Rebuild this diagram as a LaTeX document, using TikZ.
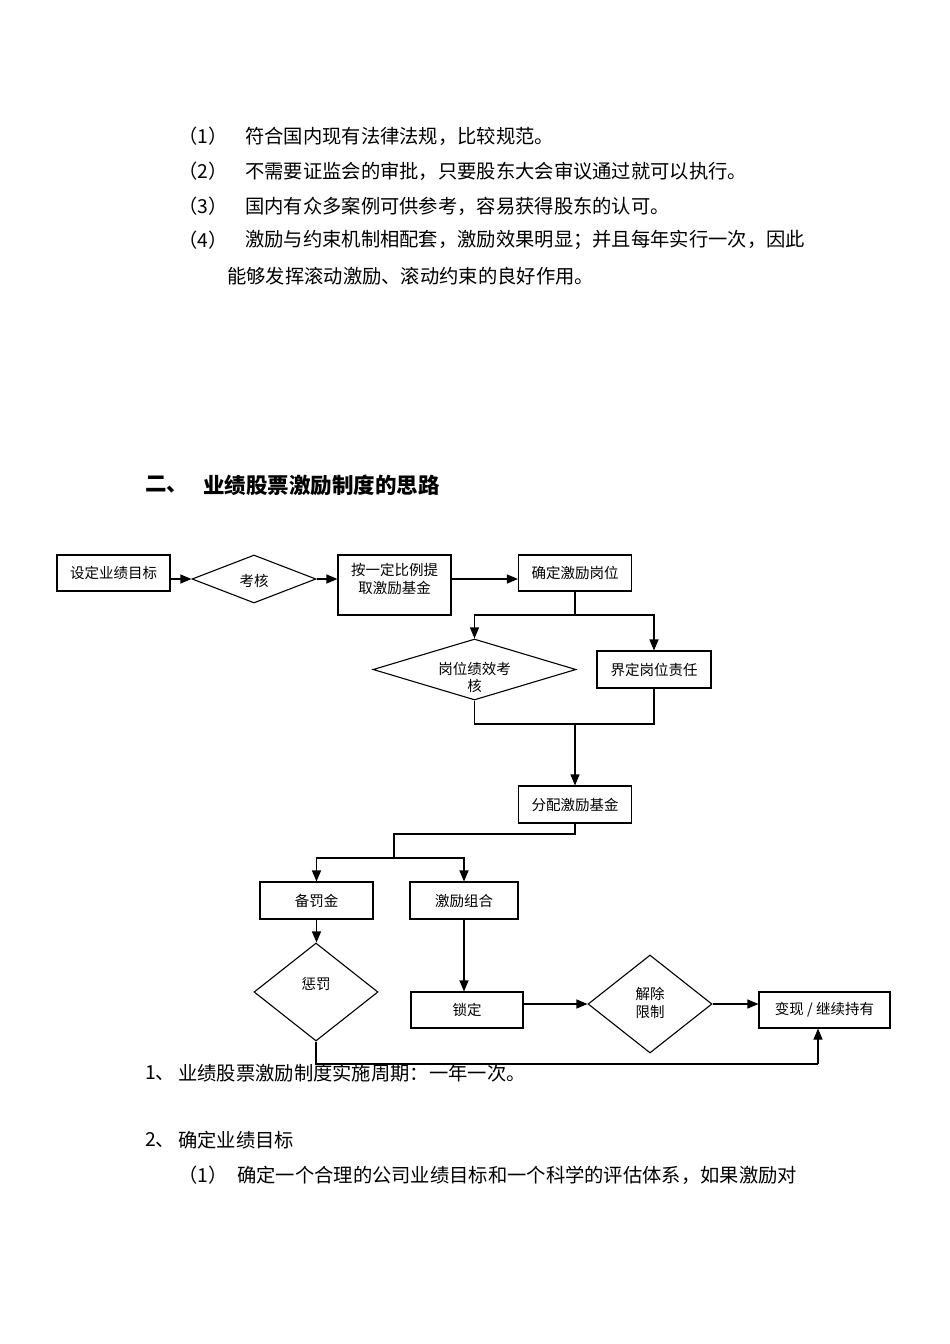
\documentclass[tikz,border=0pt]{standalone}
\usepackage{fontspec}
\newfontfamily\cjk{Noto Sans CJK SC}
\usetikzlibrary{arrows.meta,shapes.geometric}
\begin{document}
\begin{tikzpicture}[x=1pt,y=-1pt,
  body/.style={anchor=west,inner sep=0pt,font=\cjk\fontsize{19.3}{23}\selectfont},
  ttl/.style={anchor=west,inner sep=0pt,font=\cjk\bfseries\fontsize{21.5}{26}\selectfont},
  box/.style={draw,line width=1.1pt,rectangle,inner sep=0pt,font=\cjk\fontsize{14.5}{17}\selectfont},
  dia/.style={draw,line width=1.1pt,diamond,inner sep=0pt},
  lbl/.style={inner sep=0pt,align=center,font=\cjk\fontsize{14.5}{17.5}\selectfont},
  ln/.style={line width=1.1pt},
  arr/.style={line width=1.1pt,-{Triangle[length=11pt,width=9pt]}}]
\useasboundingbox[fill=white] (0,0) rectangle (950,1344);

% top list
\node[body] (n1) at (178,136) {（1）};
\node[body] (l1) at (245,136) {符合国内现有法律法规，比较规范。};
\node[body] (n2) at (178,171) {（2）};
\node[body] (l2) at (245,171) {不需要证监会的审批，只要股东大会审议通过就可以执行。};
\node[body] (n3) at (178,206) {（3）};
\node[body] (l3) at (245,206) {国内有众多案例可供参考，容易获得股东的认可。};
\node[body] (n4) at (178,240) {（4）};
\node[body] (l4) at (245,240) {激励与约束机制相配套，激励效果明显；并且每年实行一次，因此};
\node[body] (l5) at (227,276) {能够发挥滚动激励、滚动约束的良好作用。};

% title
\node[ttl] (t0) at (145,485) {二、};
\node[ttl] (t1) at (203,485) {业绩股票激励制度的思路};

% flowchart shapes
\node[box,minimum width=113,minimum height=36] (b1) at (113.5,573) {设定业绩目标};
\node[dia,minimum width=124,minimum height=48] (d1) at (254,579) {};
\node[lbl] (d1t) at (254,581) {考核};
\node[box,minimum width=113,minimum height=60] (b3) at (394.5,585) {};
\node[lbl] (b3t) at (394.5,579) {按一定比例提\\取激励基金};
\node[box,minimum width=113,minimum height=36] (b4) at (575,573) {确定激励岗位};
\node[dia,minimum width=203,minimum height=61] (d2) at (474.5,669.5) {};
\node[lbl] (d2t) at (474.5,677.5) {岗位绩效考\\核};
\node[box,minimum width=114,minimum height=37] (b5) at (654,669.5) {界定岗位责任};
\node[box,minimum width=113,minimum height=37] (b6) at (575,804.5) {分配激励基金};
\node[box,minimum width=113,minimum height=37] (b7) at (316.5,900.5) {备罚金};
\node[box,minimum width=108,minimum height=37] (b8) at (464,900.5) {激励组合};
\node[dia,minimum width=124,minimum height=98] (d3) at (316,992) {};
\node[lbl] (d3t) at (316,984) {惩罚};
\node[box,minimum width=112,minimum height=36] (b9) at (467,1010) {锁定};
\node[dia,minimum width=124,minimum height=98] (d4) at (650,1004) {};
\node[lbl] (d4t) at (650,1003) {解除\\限制};
\node[box,minimum width=131,minimum height=36] (b10) at (824.5,1010) {变现 / 继续持有};

% junction points
\coordinate (j1) at (575,615);
\coordinate (j2) at (575,724);
\coordinate (j3) at (394,834);
\coordinate (j4) at (394,858);
\coordinate (j5) at (818,1064);

% connectors
\draw[arr] (d1.west -| b1.east) -- (d1.west);
\draw[arr] (d1.east) -- (d1.east -| b3.west);
\draw[arr] (d1.east -| b3.east) -- (d1.east -| b4.west);
\draw[ln] (b4.south) -- (j1);
\draw[arr] (j1) -| (d2.north);
\draw[arr] (j1) -| (b5.north);
\draw[ln] (d2.south) |- (j2);
\draw[ln] (b5.south) |- (j2);
\draw[arr] (j2) -- (b6.north);
\draw[ln] (b6.south) |- (j3) -- (j4);
\draw[arr] (j4) -| (b7.north);
\draw[arr] (j4) -| (b8.north);
\draw[arr] (b7.south) -- (b7.south |- d3.north);
\draw[arr] (b8.south) -- (b8.south |- b9.north);
\draw[arr] (d4.west -| b9.east) -- (d4.west);
\draw[arr] (d4.east) -- (d4.east -| b10.west);
\draw[ln] (d3.south) |- (j5);
\draw[arr] (j5) -- (j5 |- b10.south);

% bottom text
\node[body] (m1) at (145,1073) {1、};
\node[body] (m1t) at (178,1073) {业绩股票激励制度实施周期：一年一次。};
\node[body] (m2) at (145,1140) {2、};
\node[body] (m2t) at (178,1140) {确定业绩目标};
\node[body] (m3) at (178,1175) {（1）};
\node[body] (m3t) at (237,1175) {确定一个合理的公司业绩目标和一个科学的评估体系，如果激励对};
\end{tikzpicture}
\end{document}
